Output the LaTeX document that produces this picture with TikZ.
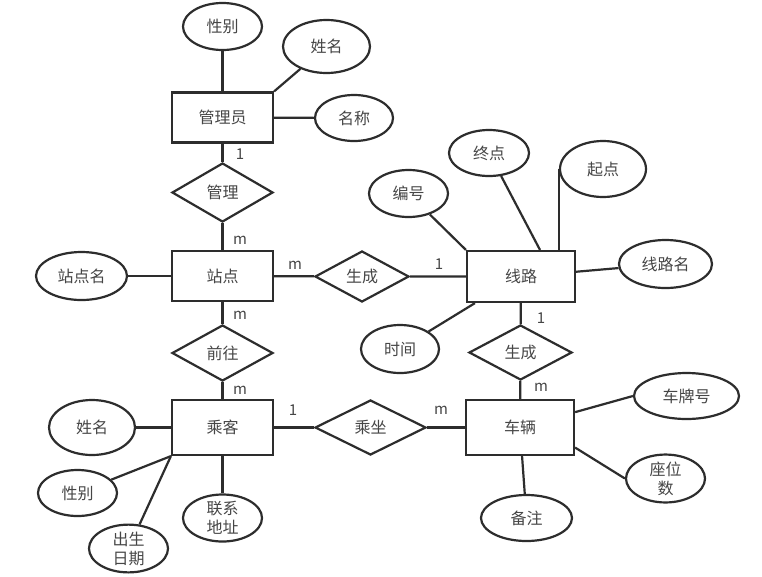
\documentclass[tikz,border=0pt]{standalone}
\usepackage{fontspec}
\setmainfont{Noto Sans CJK SC}
\usetikzlibrary{shapes.geometric,calc}
\definecolor{erline}{RGB}{45,45,45}
\definecolor{ertext}{RGB}{70,70,70}
\tikzset{
  entity/.style={draw=erline,line width=2.2pt,inner sep=0pt,
        minimum width=101pt,minimum height=50pt,text=ertext,
        font=\fontsize{16}{19}\selectfont},
  attrib/.style={ellipse,draw=erline,line width=2.2pt,inner sep=0pt,
        minimum width=79pt,minimum height=47pt,text=ertext,align=center,
        font=\fontsize{16}{19}\selectfont},
  relation/.style={diamond,draw=erline,line width=2.2pt,inner sep=0pt,
        minimum width=101pt,minimum height=56pt,text=ertext,
        font=\fontsize{16}{19}\selectfont},
  card/.style={text=ertext,inner sep=0pt,font=\fontsize{15}{17}\selectfont},
  link/.style={draw=erline,line width=2.2pt}
}
\begin{document}
\begin{tikzpicture}[x=1pt,y=-1pt]
  \useasboundingbox[fill=white] (0,0) rectangle (762,576);

  %% entities
  \node[entity] (gly) at (222.5,117.5) {管理员};
  \node[entity] (zd) at (222.5,276) {站点};
  \node[entity,minimum width=108pt,minimum height=51pt] (xl) at (521,276.5) {线路};
  \node[entity,minimum height=55pt] (ck) at (222.5,427.5) {乘客};
  \node[entity,minimum width=108pt,minimum height=55pt] (cl) at (520,427.5) {车辆};

  %% relations
  \node[relation,minimum height=59pt] (gl) at (222.5,192.5) {管理};
  \node[relation,minimum width=94pt,minimum height=51pt] (sc1) at (362,276.5) {生成};
  \node[relation] (qw) at (222.5,353) {前往};
  \node[relation,minimum width=103pt,minimum height=55pt] (sc2) at (520.5,352.5) {生成};
  \node[relation,minimum width=111pt,minimum height=55pt] (cz) at (370.5,427.5) {乘坐};

  %% attributes of 管理员
  \node[attrib] (gly-xb) at (222.5,26.5) {性别};
  \node[attrib,minimum width=87pt,minimum height=53pt] (gly-xm) at (326.5,46.5) {姓名};
  \node[attrib,minimum width=78pt,minimum height=46pt] (gly-mc) at (354,118) {名称};

  %% attributes of 站点
  \node[attrib,minimum width=91pt,minimum height=48pt] (zd-zdm) at (81.5,276) {站点名};

  %% attributes of 线路
  \node[attrib] (xl-bh) at (408.5,193.5) {编号};
  \node[attrib,minimum width=80pt,minimum height=46pt] (xl-zd) at (489,153) {终点};
  \node[attrib,minimum width=86pt,minimum height=56pt] (xl-qd) at (603,169) {起点};
  \node[attrib,minimum width=93pt,minimum height=48pt] (xl-xlm) at (665.5,264) {线路名};
  \node[attrib,minimum width=78pt,minimum height=48pt] (xl-sj) at (400,349) {时间};

  %% attributes of 车辆
  \node[attrib,minimum width=105pt,minimum height=46pt] (cl-cph) at (686.5,396) {车牌号};
  \node[attrib] (cl-zws) at (665.5,478.5) {座位\\数};
  \node[attrib,minimum width=91pt,minimum height=46pt] (cl-bz) at (526.5,518) {备注};

  %% attributes of 乘客
  \node[attrib,minimum width=86pt,minimum height=55pt] (ck-xm) at (92,427.5) {姓名};
  \node[attrib,minimum height=46pt] (ck-xb) at (77.5,493) {性别};
  \node[attrib] (ck-csrq) at (128.5,548.5) {出生\\日期};
  \node[attrib,minimum height=46pt] (ck-lxdz) at (222.5,518) {联系\\地址};

  %% relation links
  \draw[link] (gly) -- (gl) -- (zd);
  \draw[link] (zd) -- (qw) -- (ck);
  \draw[link] (zd) -- (sc1) -- (xl);
  \draw[link] (xl) -- (sc2) -- (cl);
  \draw[link] (ck) -- (cz) -- (cl);

  %% attribute links
  \draw[link] (gly-xb) -- (gly);
  \draw[link] (gly.north east) -- (gly-xm);
  \draw[link] (gly) -- (gly-mc);
  \draw[link] (zd-zdm) -- (zd);
  \draw[link] (xl-bh) -- (xl.north west);
  \draw[link] (xl-zd) -- ($(xl.north)+(19,0)$);
  \draw[link] (xl-qd.west) -- (xl-qd.west |- xl.north);
  \draw[link] (xl) -- (xl-xlm);
  \draw[link] (xl.-150) -- (xl-sj);
  \draw[link] (cl) -- (cl-cph.west);
  \draw[link] (cl.-20) -- (cl-zws.west);
  \draw[link] (cl) -- (cl-bz);
  \draw[link] (ck-xm) -- (ck);
  \draw[link] (ck.south west) -- (ck-xb);
  \draw[link] (ck.south west) -- (ck-csrq);
  \draw[link] (ck) -- (ck-lxdz);

  %% cardinalities
  \node[card] (c-gly) at (240,154) {1};
  \node[card] (c-zd1) at (240,240) {m};
  \node[card] (c-zd2) at (295,265) {m};
  \node[card] (c-xl1) at (439,264) {1};
  \node[card] (c-zd3) at (240,315) {m};
  \node[card] (c-ck1) at (240,390) {m};
  \node[card] (c-xl2) at (541,318) {1};
  \node[card] (c-cl1) at (541,387) {m};
  \node[card] (c-ck2) at (293,410) {1};
  \node[card] (c-cl2) at (441,410) {m};
\end{tikzpicture}
\end{document}
